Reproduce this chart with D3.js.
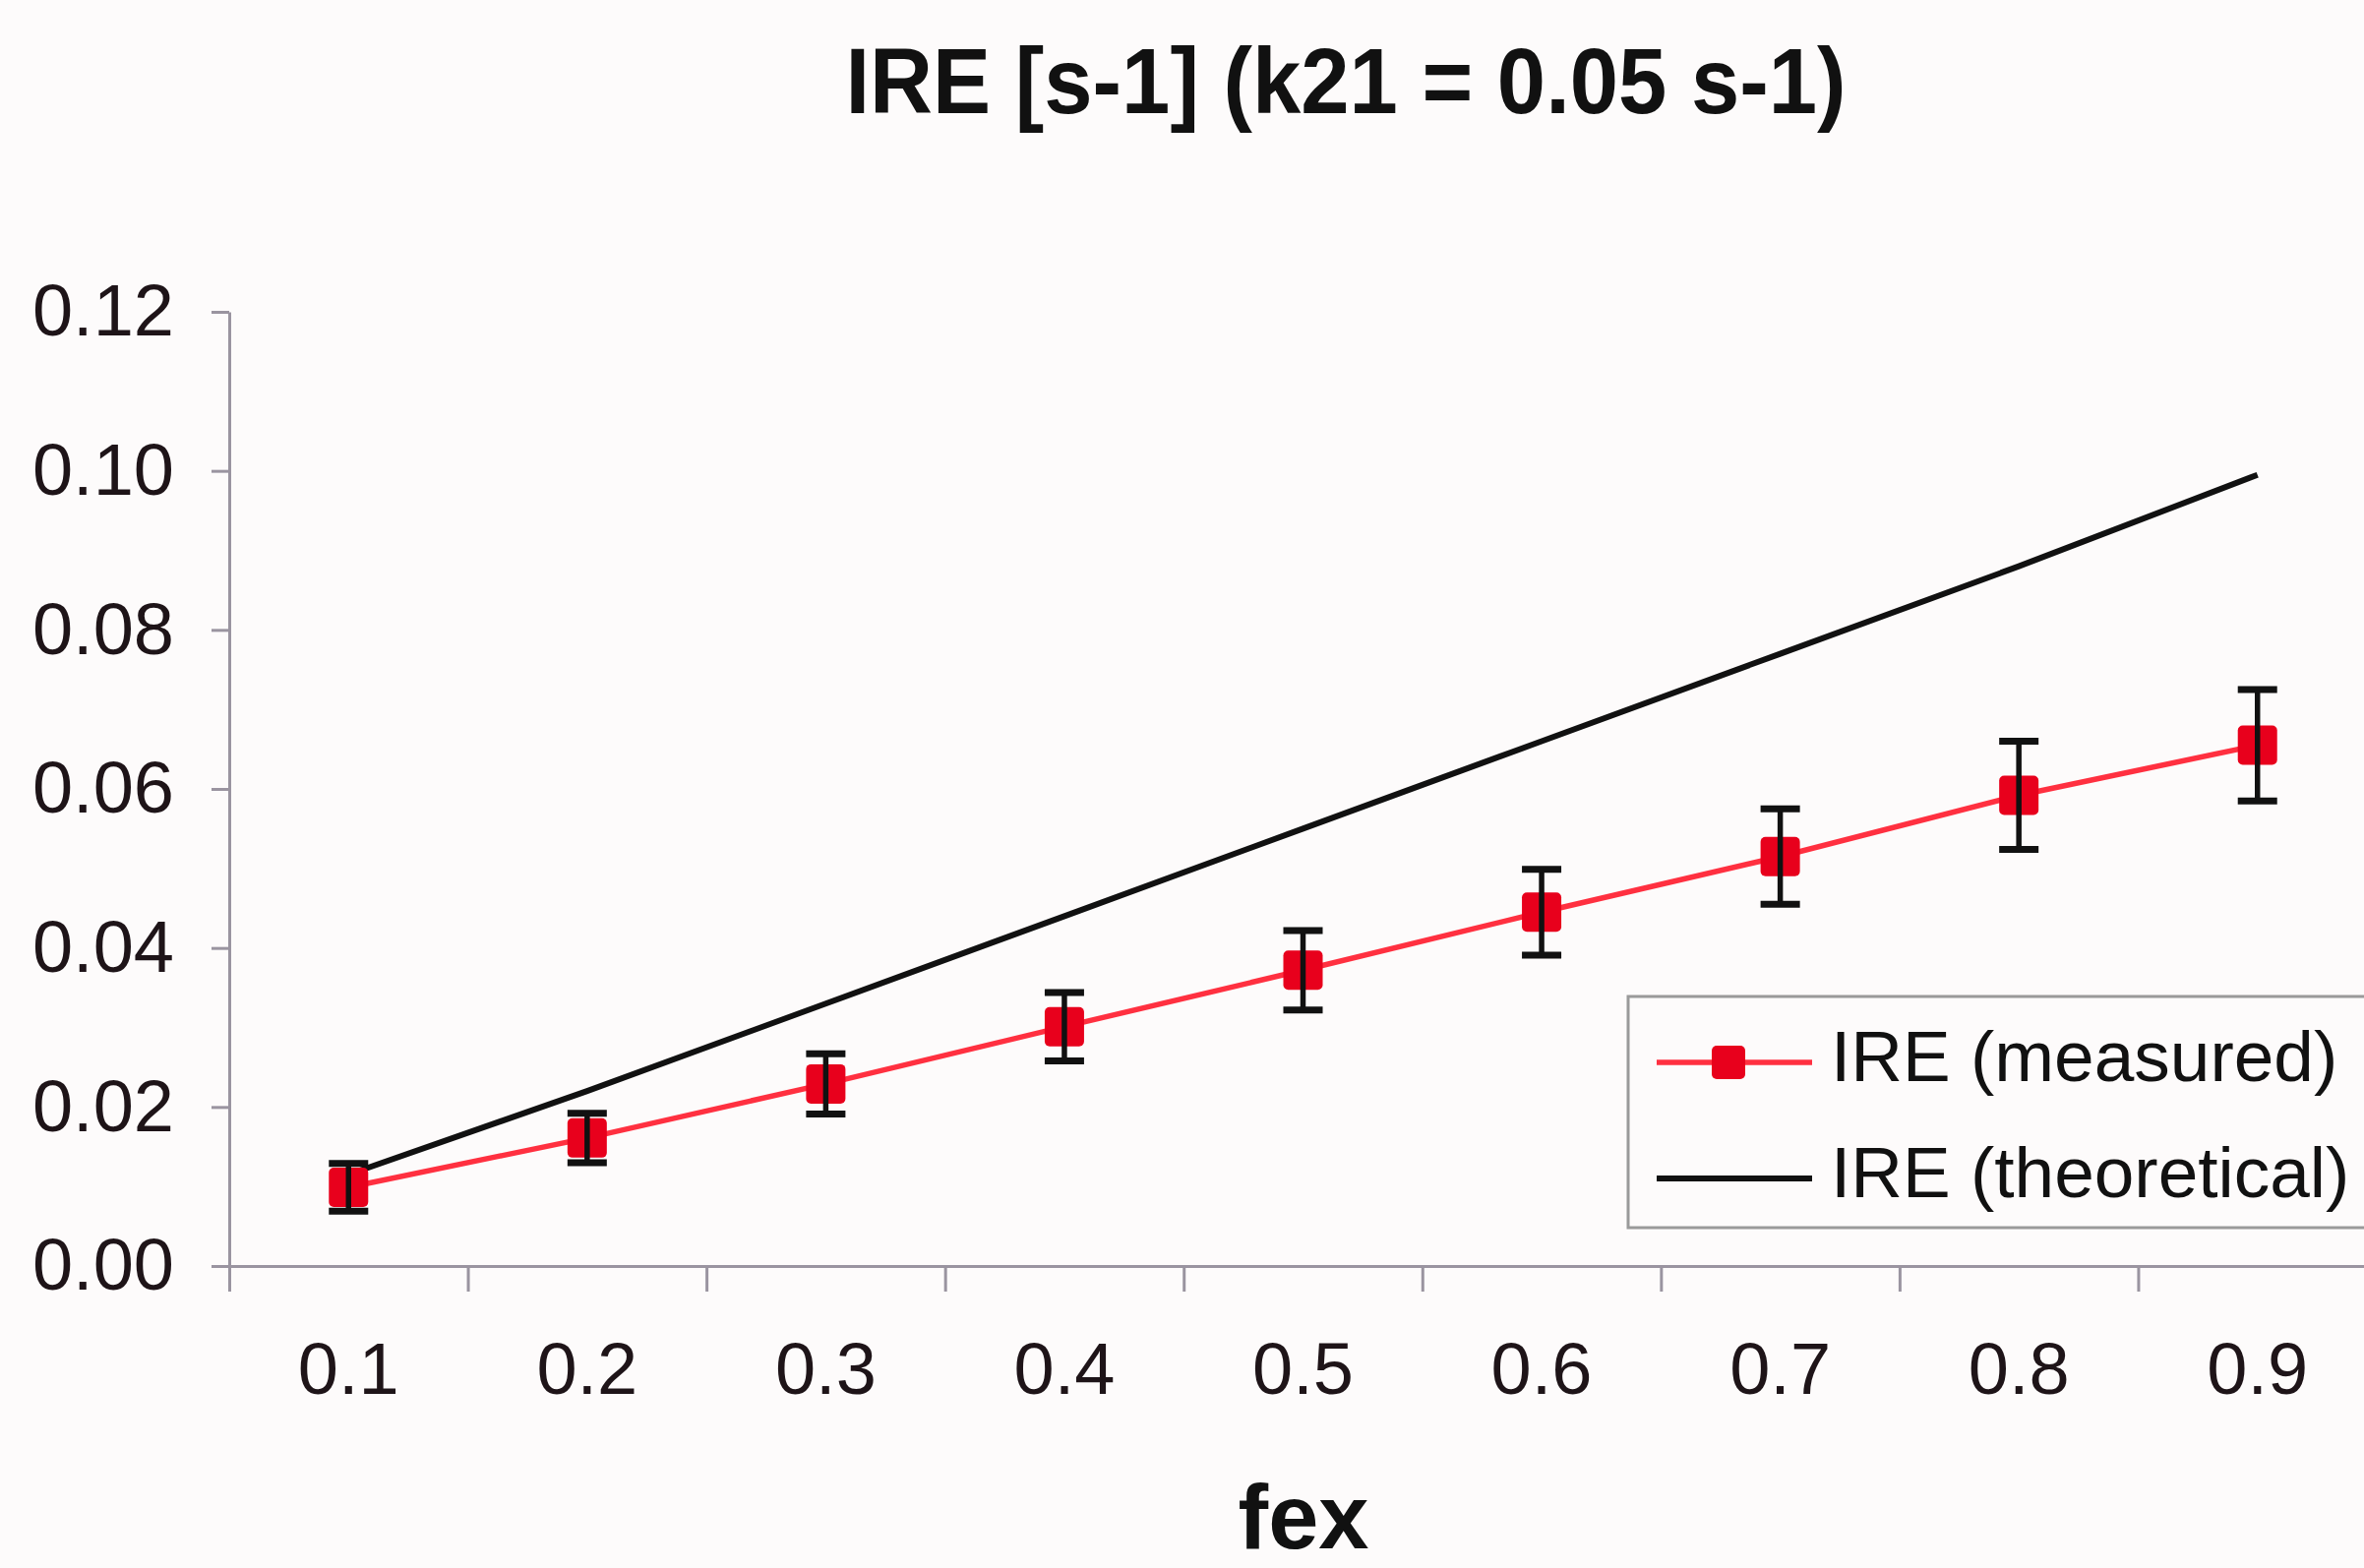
<!DOCTYPE html>
<html>
<head>
<meta charset="utf-8">
<script src="https://cdn.jsdelivr.net/npm/d3@7"></script>
<style>
  html, body { margin: 0; padding: 0; background: #fdfbfb; overflow: hidden; }
  svg { display: block; font-family: 'Liberation Sans', Arial, sans-serif; }
</style>
</head>
<body>
<div id="chart"></div>
<script>
'use strict'

// data
const categories = ['0.1', '0.2', '0.3', '0.4', '0.5', '0.6', '0.7', '0.8', '0.9']
const measured = [0.0099, 0.0161, 0.0229, 0.0301, 0.0372, 0.0445, 0.0515, 0.0592, 0.0655]
const measuredErr = [0.003, 0.0031, 0.0038, 0.0043, 0.005, 0.0054, 0.006, 0.0068, 0.007]
const theoretical = [0.0115, 0.022, 0.033, 0.044, 0.055, 0.066, 0.077, 0.088, 0.0995]
const yTicks = [0, 0.02, 0.04, 0.06, 0.08, 0.10, 0.12]
const legendLabels = ['IRE (measured)', 'IRE (theoretical)']

const width = 2403
const height = 1594
const plot = { left: 233, right: 2416, top: 317, bottom: 1287 }

const svg = d3.select('#chart').append('svg')
  .attr('width', width)
  .attr('height', height)

svg.append('rect').attr('width', width).attr('height', height).attr('fill', '#fdfbfb')

const x = d3.scaleBand().domain(categories).range([plot.left, plot.right])
const y = d3.scaleLinear().domain([0, 0.12]).range([plot.bottom, plot.top])
const cx = d => x(d) + x.bandwidth() / 2

// title
svg.append('text')
  .attr('x', 1368).attr('y', 115)
  .attr('text-anchor', 'middle')
  .attr('font-size', 95).attr('font-weight', 'bold')
  .attr('textLength', 1017).attr('lengthAdjust', 'spacingAndGlyphs')
  .attr('fill', '#111')
  .text('IRE [s-1] (k21 = 0.05 s-1)')

// y axis
const yAxis = svg.append('g')
  .attr('transform', `translate(${plot.left},0)`)
  .call(d3.axisLeft(y).tickValues(yTicks).tickFormat(d3.format('.2f')).tickSize(18).tickPadding(38).tickSizeOuter(0))
yAxis.select('.domain').attr('stroke', '#9a94a0').attr('stroke-width', 3)
yAxis.selectAll('.tick line').attr('stroke', '#9a94a0').attr('stroke-width', 3)
yAxis.selectAll('.tick text').attr('font-size', 74).attr('fill', '#1e1418')
  .attr('font-family', "'Liberation Sans', Arial, sans-serif")

// x axis: tick marks at band edges, labels at band centres
const xEdges = d3.scaleLinear().domain([0, categories.length]).range([plot.left, plot.right])
const xTickAxis = svg.append('g')
  .attr('transform', `translate(0,${plot.bottom})`)
  .call(d3.axisBottom(xEdges).ticks(categories.length).tickFormat('').tickSize(26).tickSizeOuter(0))
xTickAxis.select('.domain').attr('stroke', '#9a94a0').attr('stroke-width', 3)
xTickAxis.selectAll('.tick line').attr('stroke', '#9a94a0').attr('stroke-width', 3)

const xAxis = svg.append('g')
  .attr('transform', `translate(0,${plot.bottom})`)
  .call(d3.axisBottom(x).tickSize(0).tickPadding(77))
xAxis.select('.domain').remove()
xAxis.selectAll('.tick text').attr('font-size', 74).attr('fill', '#1e1418')
  .attr('font-family', "'Liberation Sans', Arial, sans-serif")

// x axis title
svg.append('text')
  .attr('x', 1325).attr('y', 1574)
  .attr('text-anchor', 'middle')
  .attr('font-size', 92).attr('font-weight', 'bold')
  .attr('fill', '#111')
  .text('fex')

// theoretical line
const line = d3.line().x((d, i) => cx(categories[i])).y(d => y(d))
svg.append('path')
  .datum(theoretical)
  .attr('d', line)
  .attr('fill', 'none')
  .attr('stroke', '#111')
  .attr('stroke-width', 6)

// measured line
svg.append('path')
  .datum(measured)
  .attr('d', line)
  .attr('fill', 'none')
  .attr('stroke', '#ff3040')
  .attr('stroke-width', 5.5)

// markers
const ms = 40
svg.selectAll('.marker')
  .data(measured)
  .enter().append('rect')
  .attr('class', 'marker')
  .attr('x', (d, i) => cx(categories[i]) - ms / 2)
  .attr('y', d => y(d) - ms / 2)
  .attr('width', ms).attr('height', ms)
  .attr('rx', 5)
  .attr('fill', '#e8001c')

// error bars
const capW = 40
const eb = svg.selectAll('.err')
  .data(measured)
  .enter().append('g')
  .attr('class', 'err')
  .attr('stroke', '#111')
eb.append('line')
  .attr('x1', (d, i) => cx(categories[i])).attr('x2', (d, i) => cx(categories[i]))
  .attr('y1', (d, i) => y(d + measuredErr[i])).attr('y2', (d, i) => y(d - measuredErr[i]))
  .attr('stroke-width', 5.5)
eb.append('line')
  .attr('x1', (d, i) => cx(categories[i]) - capW / 2).attr('x2', (d, i) => cx(categories[i]) + capW / 2)
  .attr('y1', (d, i) => y(d + measuredErr[i])).attr('y2', (d, i) => y(d + measuredErr[i]))
  .attr('stroke-width', 7)
eb.append('line')
  .attr('x1', (d, i) => cx(categories[i]) - capW / 2).attr('x2', (d, i) => cx(categories[i]) + capW / 2)
  .attr('y1', (d, i) => y(d - measuredErr[i])).attr('y2', (d, i) => y(d - measuredErr[i]))
  .attr('stroke-width', 7)

// legend
const legend = svg.append('g').attr('transform', 'translate(1655,1013)')
legend.append('rect')
  .attr('width', 780).attr('height', 235)
  .attr('fill', '#fdfbfb')
  .attr('stroke', '#9a9a9a').attr('stroke-width', 3)

const rows = legend.selectAll('.row')
  .data(legendLabels)
  .enter().append('g')
  .attr('class', 'row')
  .attr('transform', (d, i) => `translate(0,${67 + i * 118})`)
rows.append('line')
  .attr('x1', 29).attr('x2', 187)
  .attr('stroke', (d, i) => i === 0 ? '#ff3040' : '#111')
  .attr('stroke-width', (d, i) => i === 0 ? 5.5 : 6)
rows.filter((d, i) => i === 0).append('rect')
  .attr('x', 102 - 17).attr('y', -17)
  .attr('width', 34).attr('height', 34)
  .attr('rx', 5)
  .attr('fill', '#e8001c')
rows.append('text')
  .attr('x', 206).attr('y', 19)
  .attr('font-size', 73)
  .attr('fill', '#111')
  .text(d => d)
</script>
</body>
</html>
